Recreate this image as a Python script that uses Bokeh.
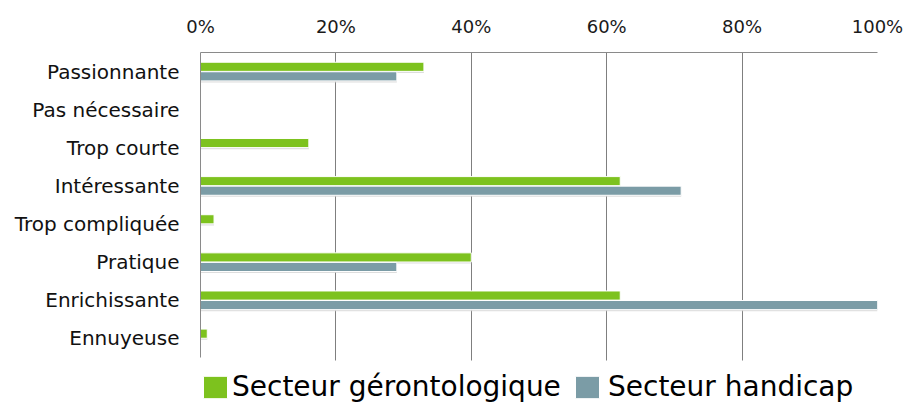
from bokeh.plotting import figure
from bokeh.models import (ColumnDataSource, Range1d, Legend, LegendItem, BoxAnnotation,
                          NumeralTickFormatter, FixedTicker)
from bokeh.transform import dodge
from bokeh.embed import file_html
from bokeh.resources import INLINE

categories = ["Passionnante", "Pas nécessaire", "Trop courte", "Intéressante",
              "Trop compliquée", "Pratique", "Enrichissante", "Ennuyeuse"]
geronto = [0.33, 0.0, 0.16, 0.62, 0.02, 0.40, 0.62, 0.01]
handicap = [0.29, 0.0, 0.0, 0.71, 0.0, 0.29, 1.00, 0.0]
x_ticks = [0, 0.2, 0.4, 0.6, 0.8, 1.0]
series_names = ["Secteur gérontologique", "Secteur handicap"]

GREEN = "#7dc21e"
GREY = "#7b9ca6"
FONT = "DejaVu Sans"

n = len(categories)
ypos = [n - 1 - i for i in range(n)]          # first category at the top
src = ColumnDataSource(dict(y=ypos, cat=categories, g=geronto, h=handicap))

ROW_PX = 305 / n
LEGEND_PX = 47
p = figure(frame_width=677, frame_height=305 + LEGEND_PX, output_backend="svg",
           toolbar_location=None, x_axis_location="above",
           x_range=Range1d(0, 1), y_range=Range1d(-0.5 - LEGEND_PX / ROW_PX, n - 0.5))
p.min_border_left = 200
p.min_border_right = 38
p.min_border_top = 52
p.min_border_bottom = 0
p.outline_line_color = None
p.background_fill_color = "white"
p.border_fill_color = "white"

# soft shadows
p.hbar(y=dodge("y", 0.125 - 0.04), right="g", height=0.24, source=src,
       fill_color="#d4d4d4", line_color=None, fill_alpha=0.8)
p.hbar(y=dodge("y", -0.125 - 0.04), right="h", height=0.24, source=src,
       fill_color="#d4d4d4", line_color=None, fill_alpha=0.8)

rg = p.hbar(y=dodge("y", 0.125), right="g", height=0.24, source=src,
            fill_color=GREEN, line_color="white", line_width=1)
rh = p.hbar(y=dodge("y", -0.125), right="h", height=0.24, source=src,
            fill_color=GREY, line_color="white", line_width=1)

p.xgrid.ticker = FixedTicker(ticks=x_ticks)
p.xgrid.grid_line_color = "#7f7f7f"
p.xgrid.grid_line_width = 1
p.ygrid.grid_line_color = None

xa = p.xaxis[0]
xa.ticker = FixedTicker(ticks=x_ticks)
xa.formatter = NumeralTickFormatter(format="0%")
xa.axis_line_color = "#8a8a8a"
xa.major_tick_line_color = None
xa.minor_tick_line_color = None
xa.major_label_text_font = FONT
xa.major_label_text_font_size = "18px"
xa.major_label_text_color = "#1a1a1a"
xa.major_label_standoff = 10

ya = p.yaxis[0]
ya.ticker = FixedTicker(ticks=ypos)
ya.major_label_overrides = {yv: c for yv, c in zip(ypos, categories)}
ya.bounds = (-0.5, n - 0.5)
ya.axis_line_color = "#8a8a8a"
ya.major_tick_line_color = None
ya.minor_tick_line_color = None
ya.major_label_text_font = FONT
ya.major_label_text_font_size = "20px"
ya.major_label_text_color = "#111111"
ya.major_label_standoff = 15

# white strip under the chart area, where the legend sits
p.add_layout(BoxAnnotation(top=-0.58, fill_color="white", fill_alpha=1.0,
                           line_color=None))

for name, r, vx, standoff in [(series_names[0], rg, 0, 2), (series_names[1], rh, 372, 6)]:
    lg = Legend(items=[LegendItem(label=name, renderers=[r])], location=(vx, 1),
                orientation="horizontal", glyph_width=30, glyph_height=28,
                label_standoff=standoff, padding=0, margin=0, spacing=0,
                border_line_color=None, background_fill_alpha=0,
                label_text_font=FONT, label_text_font_size="28px",
                label_text_color="#000000")
    p.add_layout(lg, "center")

open("out.html", "w").write(file_html(p, INLINE))
